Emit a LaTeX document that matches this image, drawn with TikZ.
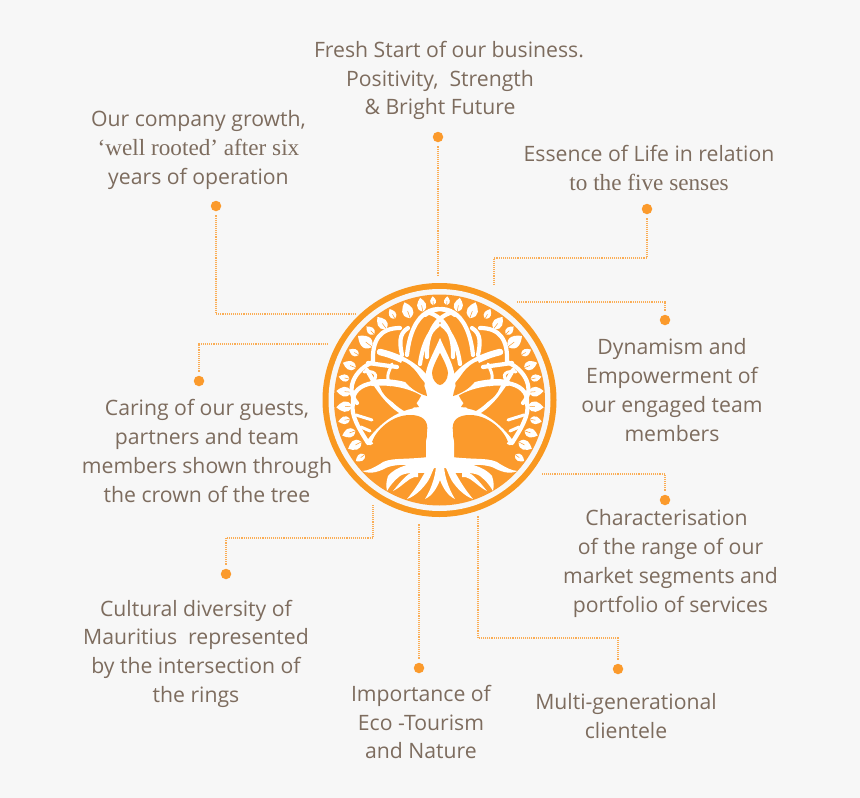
\documentclass[tikz,border=0pt]{standalone}
\usepackage{fontspec}
\setmainfont{Open Sans}
\newfontfamily\rootedfont{Liberation Serif}
\usepackage{xcolor}
\definecolor{TreeOrange}{HTML}{FB9A2C}
\definecolor{RingOrange}{HTML}{F9981F}
\definecolor{LabelBrown}{HTML}{7D6C5E}
\definecolor{PageGrey}{HTML}{F7F7F7}
\usetikzlibrary{positioning}
\tikzset{
	label text/.style={text=LabelBrown,align=center,font=\fontsize{21.2}{28.7}\selectfont,inner sep=0pt},
	end dot/.style={circle,fill=TreeOrange,inner sep=0pt,minimum size=10.5pt},
	dotted link/.style={draw=TreeOrange!80!PageGrey,line width=1.1pt,dash pattern=on 1.1pt off 1pt},
	branch/.style={draw=white,line width=4.2pt,line cap=round,line join=round},
	thick branch/.style={draw=white,line width=6.5pt,line cap=round,line join=round},
	thin branch/.style={draw=white,line width=3pt,line cap=round,line join=round},
	lobe/.style={fill=TreeOrange},
}
\newcommand{\rootedline}[1]{{\rootedfont\fontsize{23.2}{28.7}\selectfont #1}}
\begin{document}
\begin{tikzpicture}[x=1pt,y=-1pt]
	\fill[PageGrey] (0,0) rectangle (860,798);
	\useasboundingbox (0,0) rectangle (860,798);

	% labels
	\node[label text] (fresh) at (440,80.5) {\hspace*{18pt}Fresh Start of our business.\\Positivity,\ \ Strength\\\& Bright Future};
	\node[label text] (growth) at (198.5,150) {Our company growth,\\\rootedline{‘well rooted’ after six\hspace*{10pt}}\\years of operation};
	\node[label text] (essence) at (649,168) {Essence of Life in relation\\\rootedline{to the five senses}};
	\node[label text] (dynamism) at (672,390) {Dynamism and\\Empowerment of\\our engaged team\\members};
	\node[label text] (caring) at (207,451) {Caring of our guests,\\partners and team\\members shown through\\the crown of the tree};
	\node[label text] (market) at (670.5,563.5) {Characterisation\hspace*{8pt}\\of the range of our\\market segments and\\portfolio of services};
	\node[label text] (cultural) at (196,653.5) {Cultural diversity of\\Mauritius\ \ represented\\by the intersection of\\the rings};
	\node[label text] (eco) at (421,722) {Importance of\\Eco -Tourism\\and Nature};
	\node[label text] (multi) at (626,716) {Multi-generational\\clientele};

	% end dots
	\node[end dot] (dotfresh) at (438,137) {};
	\node[end dot] (dotgrowth) at (216,206) {};
	\node[end dot] (dotessence) at (647,209) {};
	\node[end dot] (dotdynamism) at (665,320) {};
	\node[end dot] (dotcaring) at (199,381) {};
	\node[end dot] (dotmarket) at (665,500) {};
	\node[end dot] (dotcultural) at (226,574) {};
	\node[end dot] (doteco) at (419,668) {};
	\node[end dot] (dotmulti) at (618,669) {};

	% free ends next to the ring
	\coordinate (endfresh) at (438,275);
	\coordinate (endgrowth) at (356,314);
	\coordinate (kneeessence) at (647,258);
	\coordinate (endessence) at (494,285);
	\coordinate (enddynamism) at (517,302);
	\coordinate (endcaring) at (327,344);
	\coordinate (endmarket) at (541,474);
	\coordinate (kneecultural) at (226,538);
	\coordinate (endcultural) at (373,505);
	\coordinate (endeco) at (419,524);
	\coordinate (kneemulti) at (618,638);
	\coordinate (endmulti) at (478,516);

	\draw[dotted link,shorten <=4pt] (dotfresh) -- (endfresh);
	\draw[dotted link,shorten <=4pt] (dotgrowth) |- (endgrowth);
	\draw[dotted link,shorten <=4pt] (dotessence) -- (kneeessence) -| (endessence);
	\draw[dotted link,shorten <=4pt] (dotdynamism) |- (enddynamism);
	\draw[dotted link,shorten <=4pt] (dotcaring) |- (endcaring);
	\draw[dotted link,shorten <=4pt] (dotmarket) |- (endmarket);
	\draw[dotted link,shorten <=4pt] (dotcultural) -- (kneecultural) -| (endcultural);
	\draw[dotted link,shorten <=4pt] (doteco) -- (endeco);
	\draw[dotted link,shorten <=4pt] (dotmulti) -- (kneemulti) -| (endmulti);

	% emblem
	\fill[RingOrange] (439.5,400) circle (117);
	\fill[PageGrey] (439.5,400) circle (111);
	\fill[TreeOrange] (439.5,400) circle (105.5);

	\begin{scope}[shift={(440,400)}]
		% leaves round the crown
		\foreach \ang/\len in {4/9,11/14,20/17,29/11,37/15,45/11,52/18,61/11,69/14,77/11,85/15,94/16,102/12,110/14,118/15,126/11}{
			\foreach \sgn in {1,-1}{
				\begin{scope}[xscale=\sgn,rotate=\ang]
					\pgfmathsetmacro{\rad}{104-\len}
					\fill[white] (0,-\rad) .. controls (-0.6*\len,-\rad-0.3*\len) and (-0.25*\len,-\rad-0.75*\len) .. (0,-\rad-\len) .. controls (0.25*\len,-\rad-0.75*\len) and (0.6*\len,-\rad-0.3*\len) .. (0,-\rad) -- cycle;
					\draw[TreeOrange,line width=0.5pt] (0,-\rad) -- (0,-\rad-0.45*\len);
				\end{scope}
			}
		}
		% tree, one half and its mirror
		\foreach \sgn in {1,-1}{
			\begin{scope}[xscale=\sgn]
				% trunk
				\fill[white] (0,-62) .. controls (5,-50) and (12,-38) .. (14,-28) .. controls (15,-15) and (16,-6) .. (24,4) -- (34,18) -- (14,30) -- (14,68) -- (0,68) -- cycle;
				% roots
				\fill[white] (12,57) .. controls (35,60) and (52,57) .. (60,64) .. controls (65,67) and (72,71) .. (78,71) .. controls (68,75) and (60,71) .. (52,67) .. controls (42,64) and (30,64) .. (12,67) -- cycle;
				\fill[white] (12,62) .. controls (28,62) and (45,67) .. (52,76) .. controls (54,82) and (54,86) .. (53,91) .. controls (49,84) and (45,80) .. (40,76) .. controls (34,72) and (24,73) .. (12,73) -- cycle;
				\fill[white] (22,70) .. controls (32,72) and (38,80) .. (47,91) .. controls (42,89) and (36,83) .. (30,79) .. controls (27,77) and (25,77) .. (22,77) -- cycle;
				\fill[white] (9,66) .. controls (15,68) and (17,80) .. (33,99) .. controls (24,96) and (16,87) .. (12,81) .. controls (9,76) and (8,72) .. (6,68) -- cycle;
				\fill[white] (0,60) -- (4,60) .. controls (3,72) and (8,88) .. (15,99) .. controls (8,96) and (3,88) .. (0,80) -- cycle;
				% main limbs
				\draw[thick branch] (16,11) .. controls (35,10) and (55,22) .. (70,42);
				\draw[branch] (33,15) .. controls (50,7) and (62,-10) .. (73,-30);
				\draw[thick branch] (10,-2) .. controls (20,-12) and (45,-20) .. (67,-17);
				\draw[branch] (67,-17) .. controls (80,-15) and (88,-8) .. (87,3);
				\draw[branch] (87,3) .. controls (90,15) and (80,30) .. (72,43);
				\draw[thick branch] (8,-12) .. controls (18,-30) and (35,-42) .. (60,-48);
				\draw[branch] (43,-33) -- (72,-37);
				% knotwork arches
				\draw[branch] (-15,-85) .. controls (2,-98) and (28,-92) .. (33,-45);
				\draw[branch] (-13,-43) .. controls (-14,-65) and (-5,-82) .. (10,-87);
				\draw[branch] (2,-75) .. controls (12,-68) and (18,-52) .. (20,-36);
				\draw[branch] (40,-72) .. controls (60,-72) and (68,-60) .. (67,-38);
				\draw[branch] (67,-38) .. controls (86,-30) and (95,-10) .. (83,3);
				\draw[branch] (38,-45) .. controls (40,-55) and (42,-66) .. (32,-72);
				\draw[thin branch] (50,-15) .. controls (55,-25) and (50,-30) .. (48,-36);
				\draw[thin branch] (66,-20) .. controls (60,-28) and (72,-30) .. (76,-28);
				\draw[thin branch] (68,20) -- (84,15);
				\draw[thin branch] (70,31) -- (79,27);
				% holes between the limbs
				\fill[lobe] (13,32) .. controls (11,20) and (18,15) .. (30,15) .. controls (48,15) and (64,30) .. (68,42) .. controls (50,56) and (30,56) .. (22,50) .. controls (14,46) and (13,40) .. (13,32) -- cycle;
				\fill[lobe] (21,7) .. controls (30,-8) and (45,-14) .. (60,-13) .. controls (56,0) and (38,10) .. (21,7) -- cycle;
				\fill[lobe] (13,-4) .. controls (16,-22) and (28,-36) .. (38,-39) .. controls (46,-24) and (28,-8) .. (13,-4) -- cycle;
			\end{scope}
		}
		% drop in the trunk
		\fill[lobe] (0,-47) .. controls (5,-38) and (8,-30) .. (8,-27) .. controls (8,-20) and (3,-15) .. (0,-15) .. controls (-3,-15) and (-8,-20) .. (-8,-27) .. controls (-8,-30) and (-5,-38) .. (0,-47) -- cycle;
	\end{scope}
\end{tikzpicture}
\end{document}
